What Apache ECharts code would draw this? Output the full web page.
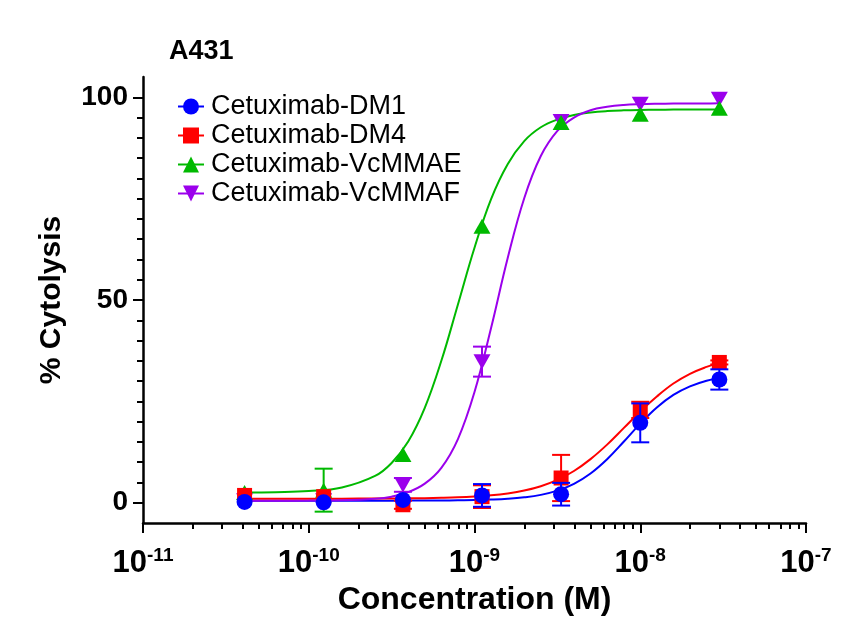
<!DOCTYPE html>
<html>
<head>
<meta charset="utf-8">
<script src="https://cdn.jsdelivr.net/npm/echarts@6/dist/echarts.min.js"></script>
<style>
  html, body { margin: 0; padding: 0; background: #fff; }
  #chart { width: 859px; height: 634px; }
</style>
</head>
<body>
<div id="chart"></div>
<script>
// names + colours (legend order)
const names = ['Cetuximab-DM1', 'Cetuximab-DM4', 'Cetuximab-VcMMAE', 'Cetuximab-VcMMAF'];
const colors = ['#0000ff', '#ff0000', '#00b900', '#9b00ec'];

// measured points, concentration in M
const conc = [4.1e-11, 1.23e-10, 3.7e-10, 1.11e-9, 3.33e-9, 1e-8, 3e-8];
const dm1 = [0.2, 0.1, 0.7, 1.8, 2.1, 19.7, 30.4];
const dm1Err = [0, 0, 0, 2.8, 2.8, 4.8, 2.5];
const dm4 = [1.8, 1.5, -0.5, 1.5, 6.1, 22.9, 34.6];
const dm4Err = [0, 0, 1.0, 2.8, 5.7, 2.0, 0.5];
const vcmmae = [2.5, 3.1, 11.9, 68.2, 93.8, 95.8, 97.3];
const vcmmaeErr = [0, 5.3, 0, 0, 0, 0, 0];
const vcmmaf = [0.5, 0.5, 4.4, 34.8, 94.0, 98.3, 99.5];
const vcmmafErr = [0, 0, 1.7, 3.7, 0, 0, 0];

// fitted curves at these log10(conc) positions
const fitExp = [-10.39, -10.2, -10.0, -9.8, -9.6, -9.5, -9.4, -9.3, -9.2, -9.1, -9.0, -8.9, -8.8,
  -8.7, -8.6, -8.5, -8.4, -8.3, -8.2, -8.1, -8.0, -7.9, -7.8, -7.7, -7.6, -7.523];
const dm1Fit = [0.5, 0.5, 0.5, 0.5, 0.5, 0.51, 0.52, 0.53, 0.55, 0.6, 0.65, 0.77, 0.97,
  1.33, 1.94, 2.98, 4.66, 7.21, 10.73, 15.03, 19.5, 23.5, 26.6, 28.7, 30.1, 30.7];
const dm4Fit = [1.0, 1.0, 1.0, 1.01, 1.03, 1.05, 1.08, 1.13, 1.21, 1.33, 1.53, 1.82, 2.29,
  3.0, 4.08, 5.64, 7.83, 10.76, 14.33, 18.4, 22.5, 26.2, 29.4, 31.8, 33.5, 34.5];
const vcmmaeFit = [2.53, 2.61, 2.87, 3.75, 6.6, 9.8, 15.1, 23.4, 35.0, 48.9, 62.9, 74.9, 83.5,
  89.2, 92.6, 94.5, 95.65, 96.26, 96.6, 96.78, 96.88, 96.93, 96.96, 96.98, 96.99, 97.0];
const vcmmafFit = [0.5, 0.51, 0.53, 0.62, 1.0, 1.5, 2.6, 4.7, 8.6, 15.7, 27.3, 43.1, 60.3,
  75.1, 85.5, 91.7, 95.0, 96.8, 97.65, 98.1, 98.3, 98.4, 98.45, 98.47, 98.49, 98.5];

const xMajor = [1e-11, 1e-10, 1e-9, 1e-8, 1e-7];
const yMajor = [0, 50, 100];

const FONT = 'Liberation Sans, Arial, sans-serif';

const xMinor = [];
for (let e = -11; e < -7; e++) {
  for (let k = 2; k < 10; k++) xMinor.push(k * Math.pow(10, e));
}
const yMinor = [];
for (let v = 0; v <= 100; v += 5) yMinor.push(v);

const pts = [dm1, dm4, vcmmae, vcmmaf];
const errs = [dm1Err, dm4Err, vcmmaeErr, vcmmafErr];
const fits = [dm1Fit, dm4Fit, vcmmaeFit, vcmmafFit];
const symbols = ['circle', 'rect', 'triangle', 'triangle'];
const rotates = [0, 0, 0, 180];
const sizes = [16, 15, [17, 15], [17, 15]];
const zBase = [9, 7, 5, 3];

const series = [];
names.forEach((n, i) => {
  series.push({
    type: 'line', name: n, z: 2,
    smooth: 0.4, showSymbol: false,
    symbol: symbols[i], symbolRotate: rotates[i],
    lineStyle: { width: 2, color: colors[i] },
    itemStyle: { color: colors[i] },
    data: fitExp.map((e, j) => [Math.pow(10, e), fits[i][j]]),
    silent: true
  });
});
names.forEach((n, i) => {
  series.push({
    type: 'custom', name: n, z: zBase[i], silent: true,
    data: conc.map((c, j) => [c, pts[i][j], errs[i][j]]).filter(d => d[2] > 0),
    renderItem(params, api) {
      const x = api.value(0), y = api.value(1), e = api.value(2);
      const a = api.coord([x, y + e]), b = api.coord([x, y - e]);
      const w = 9;
      const st = { stroke: colors[i], lineWidth: 2 };
      return {
        type: 'group',
        children: [
          { type: 'line', shape: { x1: a[0], y1: a[1], x2: b[0], y2: b[1] }, style: st },
          { type: 'line', shape: { x1: a[0] - w, y1: a[1], x2: a[0] + w, y2: a[1] }, style: st },
          { type: 'line', shape: { x1: b[0] - w, y1: b[1], x2: b[0] + w, y2: b[1] }, style: st }
        ]
      };
    }
  });
  series.push({
    type: 'scatter', name: n, z: zBase[i] + 1, silent: true,
    symbol: symbols[i], symbolRotate: rotates[i], symbolSize: sizes[i],
    itemStyle: { color: colors[i], opacity: 1 },
    data: conc.map((c, j) => [c, pts[i][j]])
  });
});

const gridBox = { left: 143, right: 53, top: 77, bottom: 111, outerBoundsMode: 'none' };

const option = {
  animation: false,
  backgroundColor: '#fff',
  title: {
    text: 'A431', left: 164, top: 33,
    textStyle: { fontFamily: FONT, fontSize: 27, fontWeight: 'bold', color: '#000' }
  },
  legend: {
    orient: 'vertical', left: 172, top: 88,
    itemWidth: 26, itemHeight: 20, itemGap: 2,
    data: names,
    textStyle: { fontFamily: FONT, fontSize: 27, color: '#000', padding: [0, 0, 0, 2] },
    selectedMode: false
  },
  grid: [Object.assign({}, gridBox), Object.assign({}, gridBox)],
  xAxis: [{
    type: 'log', gridIndex: 0, min: 1e-11, max: 1e-7,
    name: 'Concentration (M)', nameLocation: 'middle', nameGap: 61,
    nameTextStyle: { fontFamily: FONT, fontSize: 32, fontWeight: 'bold', color: '#000' },
    axisLine: { onZero: false, lineStyle: { color: '#000', width: 2.5 } },
    axisTick: { customValues: xMajor, length: 10, lineStyle: { color: '#000', width: 2 } },
    axisLabel: {
      customValues: xMajor, margin: 23,
      formatter: v => '{b|10}{s|' + Math.round(Math.log10(v)) + '}',
      rich: {
        b: { fontFamily: FONT, fontSize: 31, fontWeight: 'bold', color: '#000' },
        s: { fontFamily: FONT, fontSize: 19, fontWeight: 'bold', color: '#000', padding: [0, 0, 16, 0] }
      }
    },
    splitLine: { show: false }
  }, {
    type: 'log', gridIndex: 1, min: 1e-11, max: 1e-7,
    axisLine: { show: false, onZero: false },
    axisTick: { customValues: xMinor, length: 6, lineStyle: { color: '#000', width: 2 } },
    axisLabel: { show: false },
    splitLine: { show: false }
  }],
  yAxis: [{
    type: 'value', gridIndex: 0, min: -5, max: 105,
    name: '% Cytolysis', nameLocation: 'middle', nameGap: 76,
    nameTextStyle: { fontFamily: FONT, fontSize: 30, fontWeight: 'bold', color: '#000' },
    axisLine: { show: true, onZero: false, lineStyle: { color: '#000', width: 2.5 } },
    axisTick: { show: true, customValues: yMajor, length: 10, lineStyle: { color: '#000', width: 2 } },
    axisLabel: {
      customValues: yMajor, margin: 15,
      fontFamily: FONT, fontSize: 28, fontWeight: 'bold', color: '#000'
    },
    splitLine: { show: false }
  }, {
    type: 'value', gridIndex: 1, min: -5, max: 105,
    axisLine: { show: false, onZero: false },
    axisTick: { show: true, customValues: yMinor, length: 6, lineStyle: { color: '#000', width: 2 } },
    axisLabel: { show: false },
    splitLine: { show: false }
  }],
  series: series
};

const chart = echarts.init(document.getElementById('chart'));
chart.setOption(option);
</script>
</body>
</html>
